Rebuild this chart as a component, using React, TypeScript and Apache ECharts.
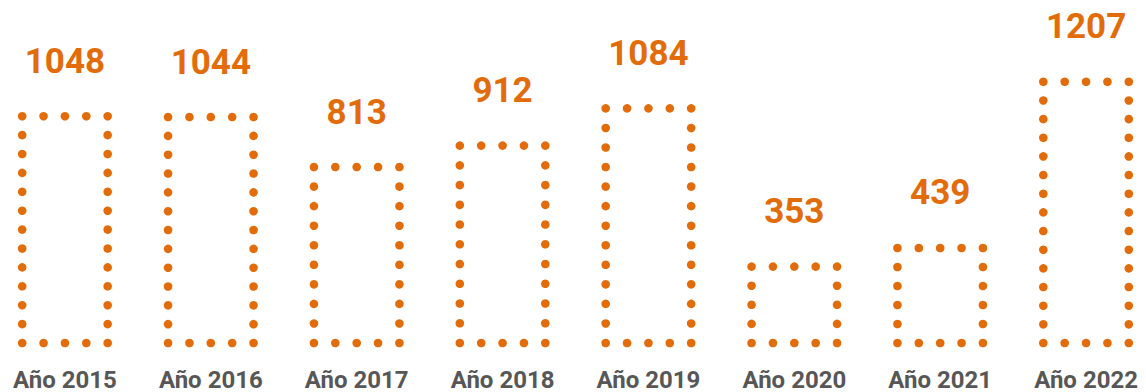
import React, { useEffect, useRef } from "react";
import * as echarts from "echarts";

const years = ["Año 2015", "Año 2016", "Año 2017", "Año 2018", "Año 2019", "Año 2020", "Año 2021", "Año 2022"];
const values = [1048, 1044, 813, 912, 1084, 353, 439, 1207];

const ORANGE = "#E36C0A";
const GRAY = "#575757";

export default function App() {
  const ref = useRef<HTMLDivElement | null>(null);

  useEffect(() => {
    if (!ref.current) return;
    const chart = echarts.init(ref.current, null, { renderer: "svg" });

    // Each bar is drawn as an outline of round dots, with its value above it.
    const renderItem = (params: any, api: any) => {
      const idx = api.value(0);
      const val = api.value(1);
      const topPt = api.coord([idx, val]);
      const basePt = api.coord([idx, 0]);
      const band = api.size([1, 0])[0];
      const half = band * 0.293;
      const cx = topPt[0];
      const left = cx - half;
      const right = cx + half;
      const top = topPt[1];
      const bottom = basePt[1];
      const r = 4.3;
      const children: any[] = [];
      const dot = (x: number, y: number) =>
        children.push({ type: "circle", shape: { cx: x, cy: y, r }, style: { fill: ORANGE } });

      const w = right - left;
      const nh = Math.max(1, Math.round(w / 21));
      for (let k = 0; k <= nh; k++) {
        const x = left + (k * w) / nh;
        dot(x, top);
        dot(x, bottom);
      }
      const h = bottom - top;
      const nv = Math.max(1, Math.round(h / 19));
      for (let k = 1; k < nv; k++) {
        const y = top + (k * h) / nv;
        dot(left, y);
        dot(right, y);
      }
      children.push({
        type: "text",
        style: {
          text: String(val),
          x: cx,
          y: top - 55,
          align: "center",
          verticalAlign: "middle",
          fill: ORANGE,
          fontSize: 35,
          fontWeight: "bold",
          fontFamily: "Roboto",
        },
      });
      return { type: "group", children };
    };

    chart.setOption({
      animation: false,
      grid: { left: 0, right: 0, top: 40, bottom: 49, containLabel: false },
      xAxis: {
        type: "category",
        data: years,
        axisLine: { show: false },
        axisTick: { show: false },
        axisLabel: {
          margin: 36.5,
          verticalAlign: "middle",
          lineHeight: 24,
          color: GRAY,
          fontSize: 24,
          fontWeight: "bold",
          fontFamily: "Roboto",
          interval: 0,
        },
      },
      yAxis: {
        type: "value",
        min: 0,
        max: 1400,
        show: false,
        splitLine: { show: false },
      },
      series: [
        {
          type: "custom",
          renderItem,
          encode: { x: 0, y: 1 },
          data: values.map((v, i) => [i, v]),
          clip: false,
        },
      ],
    });

    return () => chart.dispose();
  }, []);

  // The drawing area is a little wider than the page, so the outer
  // columns' bands run past both edges; the frame crops the overflow.
  return (
    <div style={{ position: "absolute", left: 0, top: 0, width: 1146, height: 392, overflow: "hidden", background: "#fff" }}>
      <div ref={ref} style={{ position: "absolute", left: -8.45, top: 0, width: 1167.2, height: 392 }} />
    </div>
  );
}
